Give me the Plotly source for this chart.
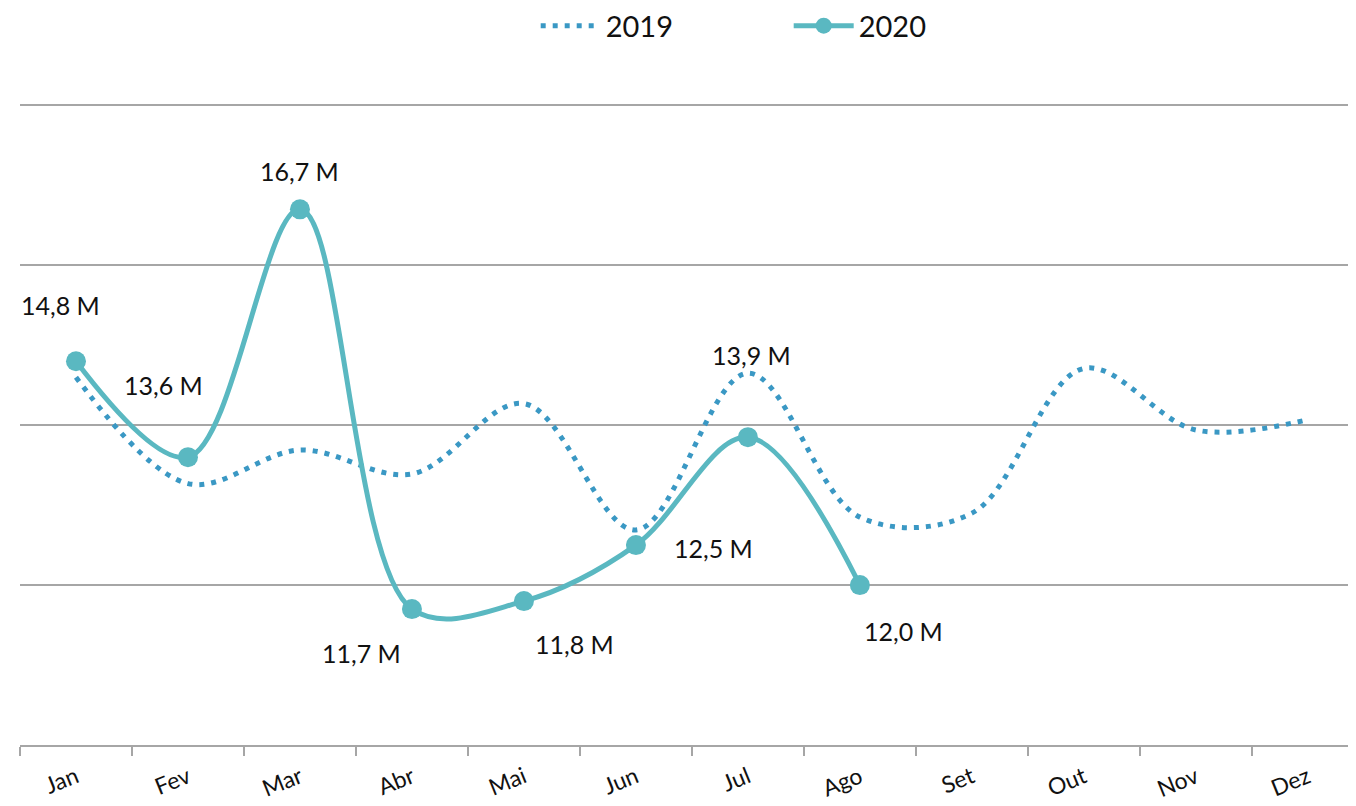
import plotly.graph_objects as go

months = ["Jan", "Fev", "Mar", "Abr", "Mai", "Jun", "Jul", "Ago", "Set", "Out", "Nov", "Dez"]
values_2019 = [14.6, 13.27, 13.69, 13.39, 14.27, 12.69, 14.65, 12.85, 12.9, 14.71, 13.94, 14.07]
months_2020 = months[:8]
values_2020 = [14.8, 13.6, 16.7, 11.7, 11.8, 12.5, 13.85, 12.0]
labels_2020 = ["14,8 M", "13,6 M", "16,7 M", "11,7 M", "11,8 M", "12,5 M", "13,9 M", "12,0 M"]
label_shift = [(-15, 56), (-24, 72), (0, 38), (-50, -44), (51, -43), (78, -3), (4, 82), (44, -46)]

FONT = "Lato"
c2019 = "#3a98c4"
c2020 = "#5ab8c1"

fig = go.Figure()
fig.add_trace(go.Scatter(
    x=months, y=values_2019, name="2019", mode="lines",
    line=dict(color=c2019, width=5, dash="5px,7px", shape="spline", smoothing=1.0),
))
fig.add_trace(go.Scatter(
    x=months_2020, y=values_2020, name="2020", mode="lines+markers",
    line=dict(color=c2020, width=5, shape="spline", smoothing=1.0),
    marker=dict(color=c2020, size=20),
))

for m, v, t, (dx, dy) in zip(months_2020, values_2020, labels_2020, label_shift):
    fig.add_annotation(x=m, y=v, text=t, showarrow=False, xshift=dx, yshift=dy,
                       font=dict(family=FONT, size=25, color="#111111"))

fig.update_layout(
    width=1348, height=798,
    margin=dict(l=12, r=0, t=95, b=61, autoexpand=False),
    paper_bgcolor="white", plot_bgcolor="white",
    font=dict(family=FONT, color="#111111"),
    showlegend=True,
    legend=dict(orientation="h", x=0.386, xanchor="left", y=1.16, yanchor="top",
                font=dict(family=FONT, size=29, color="#111111"),
                entrywidth=178, itemwidth=60),
    xaxis=dict(
        type="category", categoryorder="array", categoryarray=months,
        range=[-0.5, 11.43], tickson="boundaries", automargin=False,
        ticks="outside", ticklen=9, tickwidth=2, tickcolor="#a6a6a6",
        showline=True, linecolor="#a6a6a6", linewidth=2,
        showgrid=False, tickangle=-22, ticklabelstandoff=8,
        tickfont=dict(family=FONT, size=23, color="#111111"),
    ),
    yaxis=dict(
        range=[10, 18.03], dtick=2, tick0=10, showticklabels=False,
        showgrid=True, gridcolor="#a6a6a6", gridwidth=2, automargin=False,
        zeroline=False, showline=False, fixedrange=True,
    ),
)

fig.write_html("out.html")
